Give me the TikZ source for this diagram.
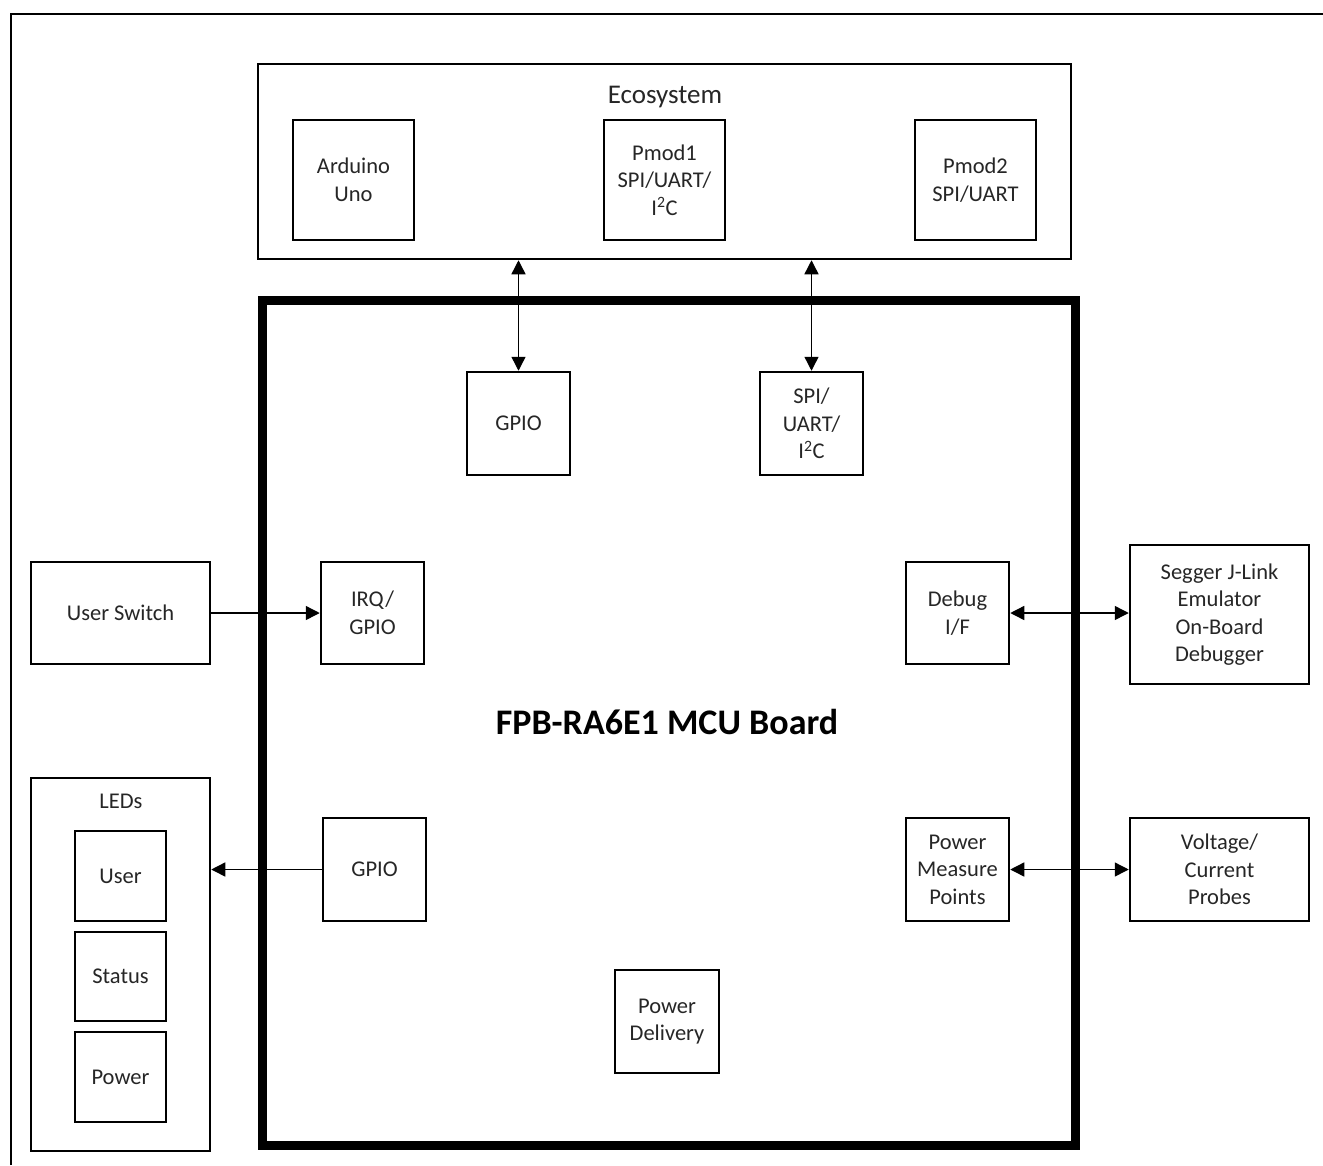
\documentclass[tikz,border=0pt]{standalone}
\usepackage{fontspec}
\setmainfont{Carlito}
\usetikzlibrary{arrows.meta}
\begin{document}
\begin{tikzpicture}[x=1pt,y=-1pt,
  blk/.style={draw,line width=2.5pt,inner sep=0pt,align=center,
    font=\fontsize{22.5}{27.5}\selectfont,text=black!85},
  conn/.style={line width=1.4pt,-{Triangle[length=14pt,width=14pt]}},
  biconn/.style={line width=1.4pt,{Triangle[length=14pt,width=14pt]}-{Triangle[length=14pt,width=14pt]}}]
\useasboundingbox (0,0) rectangle (1323,1165);
% outer frame
\draw[line width=2.6pt] (11,1165) -- (11,14) -- (1323,14);
% ecosystem
\node[blk,minimum width=813pt,minimum height=195pt] (eco) at (664.5,161.5) {};
\node[font=\fontsize{27}{30}\selectfont,text=black!85] (ecol) at (665,97) {Ecosystem};
\node[blk,minimum width=121pt,minimum height=120pt] (ard) at (353.5,180) {Arduino\\Uno};
\node[blk,minimum width=121pt,minimum height=120pt] (pm1) at (664.5,180) {Pmod1\\SPI/UART/\\I\textsuperscript{2}C};
\node[blk,minimum width=121pt,minimum height=120pt] (pm2) at (975.5,180) {Pmod2\\SPI/UART};
% MCU board
\node[draw,line width=9pt,minimum width=813pt,minimum height=845pt,inner sep=0pt] (mcu) at (668.5,722.5) {};
\node[font=\fontsize{36}{40}\selectfont\bfseries] (mcul) at (667,722) {FPB-RA6E1 MCU Board};
\node[blk,minimum width=103pt,minimum height=103pt] (gpio1) at (518.5,423.5) {GPIO};
\node[blk,minimum width=103pt,minimum height=103pt] (spi) at (811.5,423.5) {SPI/\\UART/\\I\textsuperscript{2}C};
\node[blk,minimum width=103pt,minimum height=102pt] (irq) at (372.5,613) {IRQ/\\GPIO};
\node[blk,minimum width=103pt,minimum height=102pt] (dbg) at (957.5,613) {Debug\\I/F};
\node[blk,minimum width=103pt,minimum height=103pt] (gpio2) at (374.5,869.5) {GPIO};
\node[blk,minimum width=103pt,minimum height=103pt] (pmp) at (957.5,869.5) {Power\\Measure\\Points};
\node[blk,minimum width=104pt,minimum height=103pt] (pd) at (667,1021.5) {Power\\Delivery};
% left side
\node[blk,minimum width=179pt,minimum height=102pt] (usw) at (120.5,613) {User Switch};
\node[blk,minimum width=179pt,minimum height=373pt] (leds) at (120.5,964.5) {};
\node[font=\fontsize{22.5}{26}\selectfont,text=black!85] (ledsl) at (121,801) {LEDs};
\node[blk,minimum width=91pt,minimum height=90pt] (luser) at (120.5,876) {User};
\node[blk,minimum width=91pt,minimum height=89pt] (lstat) at (120.5,976.5) {Status};
\node[blk,minimum width=91pt,minimum height=90pt] (lpow) at (120.5,1077) {Power};
% right side
\node[blk,minimum width=179pt,minimum height=139pt] (seg) at (1219.5,614.5) {Segger J-Link\\Emulator\\On-Board\\Debugger};
\node[blk,minimum width=179pt,minimum height=103pt] (vcp) at (1219.5,869.5) {Voltage/\\Current\\Probes};
% connectors
\draw[biconn] (gpio1.north) -- (gpio1.north |- eco.south);
\draw[biconn] (spi.north) -- (spi.north |- eco.south);
\draw[conn] (usw.east) -- (irq.west);
\draw[conn] (gpio2.west) -- (gpio2.west -| leds.east);
\draw[biconn] (dbg.east) -- (dbg.east -| seg.west);
\draw[biconn] (pmp.east) -- (vcp.west);
\end{tikzpicture}
\end{document}
